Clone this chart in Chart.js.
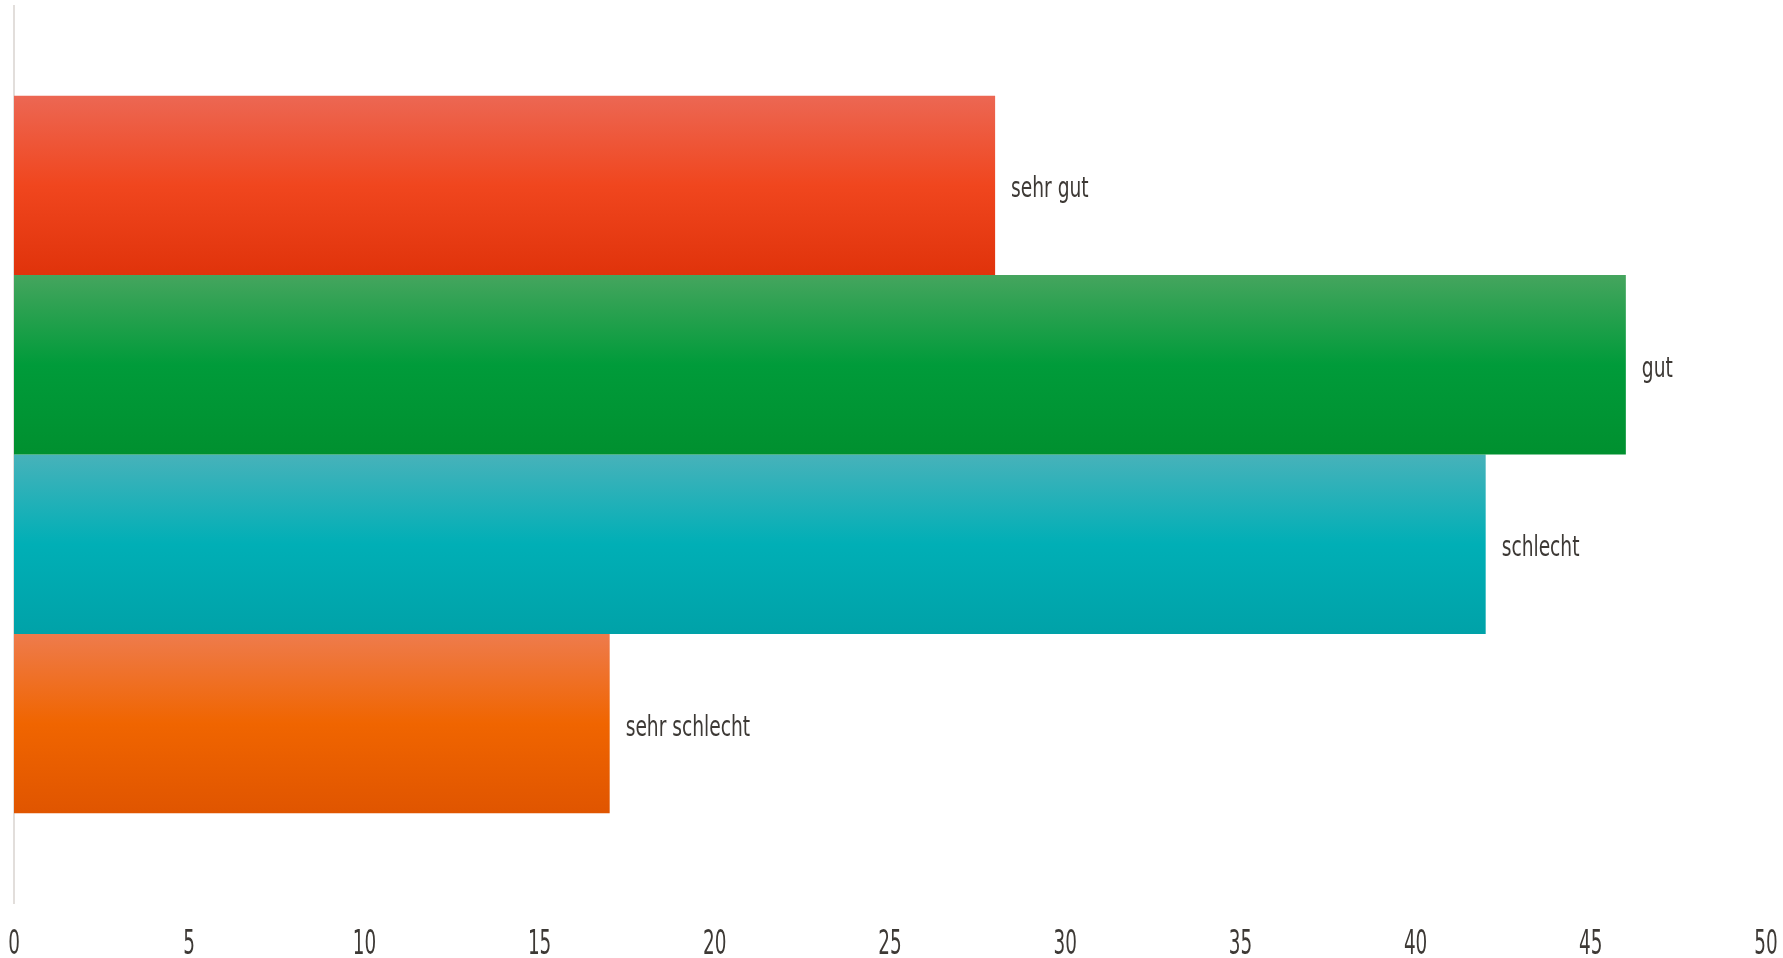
<!DOCTYPE html>
<html>
<head>
<meta charset="utf-8">
<script src="https://cdn.jsdelivr.net/npm/chart.js@4/dist/chart.umd.min.js"></script>
<style>
  html, body { margin: 0; padding: 0; background: #fff; }
  canvas { display: block; }
</style>
</head>
<body>
<canvas id="chart" width="1783" height="958"></canvas>
<script>
  const categories = [''];
  const seriesLabels = ['sehr gut', 'gut', 'schlecht', 'sehr schlecht'];
  const seriesValues = [28, 46, 42, 17];
  const xMin = 0, xMax = 50, xStep = 5;

  // Verlauf oben hell -> Mitte -> unten dunkel
  const farben = [
    ['#ec6753', '#f0461e', '#e0330b'],
    ['#45a55e', '#009b3a', '#00902f'],
    ['#47b2ba', '#00afb6', '#00a2a8'],
    ['#ee7b4c', '#f06500', '#e05500']
  ];
  const textFarbe = '#3d3935';
  const schrift = '"Liberation Sans Narrow", "DejaVu Sans Condensed", sans-serif';

  const gradientPlugin = {
    id: 'gradients',
    beforeDatasetsDraw(chart) {
      const ctx = chart.ctx;
      chart.data.datasets.forEach((ds, i) => {
        chart.getDatasetMeta(i).data.forEach(el => {
          const top = el.y - el.height / 2;
          const g = ctx.createLinearGradient(0, top, 0, top + el.height);
          g.addColorStop(0, farben[i][0]);
          g.addColorStop(0.5, farben[i][1]);
          g.addColorStop(1, farben[i][2]);
          el.options.backgroundColor = g;
        });
      });
    },
    afterDatasetsDraw(chart) {
      const ctx = chart.ctx;
      ctx.save();
      ctx.fillStyle = textFarbe;
      ctx.font = '28px ' + schrift;
      ctx.textAlign = 'left';
      ctx.textBaseline = 'alphabetic';
      chart.data.datasets.forEach((ds, i) => {
        chart.getDatasetMeta(i).data.forEach(el => {
          ctx.save();
          ctx.translate(el.x + 16, el.y + 12);
          ctx.scale(0.74, 1);
          ctx.fillText(ds.label, 0, 0);
          ctx.restore();
        });
      });
      ctx.restore();
    },
    afterDraw(chart) {
      // schmale Achsenbeschriftung
      const ctx = chart.ctx;
      const sx = chart.scales.x;
      ctx.save();
      ctx.fillStyle = textFarbe;
      ctx.font = '33px ' + schrift;
      ctx.textAlign = 'center';
      ctx.textBaseline = 'alphabetic';
      sx.ticks.forEach((t, i) => {
        const x = sx.getPixelForTick(i);
        ctx.save();
        ctx.translate(x, chart.chartArea.bottom + 51);
        ctx.scale(0.62, 1);
        ctx.fillText(String(t.value), 0, 0);
        ctx.restore();
      });
      ctx.restore();
    }
  };

  const chart = new Chart(document.getElementById('chart'), {
    type: 'bar',
    data: {
      labels: categories,
      datasets: seriesLabels.map((label, i) => ({
        label: label,
        data: [seriesValues[i]],
        backgroundColor: () => farben[i][1],
        borderWidth: 0,
        barPercentage: 1,
        categoryPercentage: 0.8
      }))
    },
    options: {
      indexAxis: 'y',
      responsive: false,
      animation: false,
      layout: { padding: { top: 6, left: 6, right: 17, bottom: 47 } },
      plugins: {
        legend: { display: false },
        tooltip: { enabled: false }
      },
      scales: {
        x: {
          min: xMin,
          max: xMax,
          ticks: { stepSize: xStep, display: false },
          grid: { display: false },
          border: { display: false }
        },
        y: {
          ticks: { display: false },
          grid: { display: false },
          border: { display: true, color: '#e2dedb', width: 2 }
        }
      }
    },
    plugins: [gradientPlugin]
  });
</script>
</body>
</html>
